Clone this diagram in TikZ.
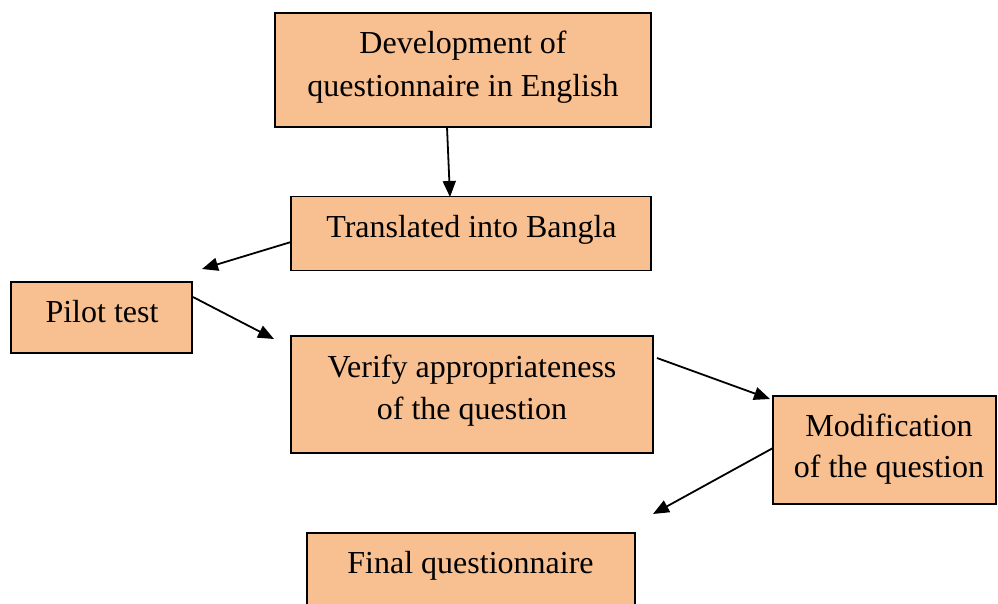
\documentclass[tikz,border=0pt]{standalone}
\usepackage{fontspec}
\setmainfont{Liberation Serif}
\usetikzlibrary{arrows.meta}
\definecolor{boxfill}{RGB}{248,191,144}
\tikzset{
  box/.style={draw=black, line width=1.8pt, fill=boxfill, inner sep=0pt, rectangle},
  txt/.style={anchor=base, inner sep=0pt, font=\fontsize{32}{43}\selectfont},
  arr/.style={line width=1.8pt, -{Triangle[length=16pt,width=13pt]}}
}
\begin{document}
\begin{tikzpicture}[x=1pt,y=-1pt]
\useasboundingbox (0,0) rectangle (998,603);
\clip (0,0) rectangle (998,603);
% boxes
\node[box, minimum width=376pt, minimum height=114pt] (b1) at (463,70) {};
\node[box, minimum width=360pt, minimum height=74pt] (b2) at (471,233.5) {};
\node[box, minimum width=181pt, minimum height=71pt] (b3) at (101.5,317.5) {};
\node[box, minimum width=362pt, minimum height=117pt] (b4) at (472,394.5) {};
\node[box, minimum width=223pt, minimum height=108pt] (b5) at (884.5,450) {};
\node[box, minimum width=328pt, minimum height=100pt] (b6) at (471,583) {};
% texts
\node[txt] (t1a) at (463,53) {Development of};
\node[txt] (t1b) at (463,96) {questionnaire in English};
\node[txt] (t2) at (471.5,237) {Translated into Bangla};
\node[txt] (t3) at (102,322) {Pilot test};
\node[txt] (t4a) at (472,377) {Verify appropriateness};
\node[txt] (t4b) at (472,419) {of the question};
\node[txt] (t5a) at (889,436) {Modification};
\node[txt] (t5b) at (889,477) {of the question};
\node[txt] (t6) at (470.5,573) {Final questionnaire};
% arrow ends
\coordinate (s1) at (447,127);
\coordinate (e1) at (450,197);
\coordinate (s2) at (291,242);
\coordinate (e2) at (202,269);
\coordinate (s3) at (193,297);
\coordinate (e3) at (274,339);
\coordinate (s4) at (657,358);
\coordinate (e4) at (770,399);
\coordinate (s5) at (773,448);
\coordinate (e5) at (653,514);
\draw[arr] (s1) -- (e1);
\draw[arr] (s2) -- (e2);
\draw[arr] (s3) -- (e3);
\draw[arr] (s4) -- (e4);
\draw[arr] (s5) -- (e5);
\end{tikzpicture}
\end{document}
